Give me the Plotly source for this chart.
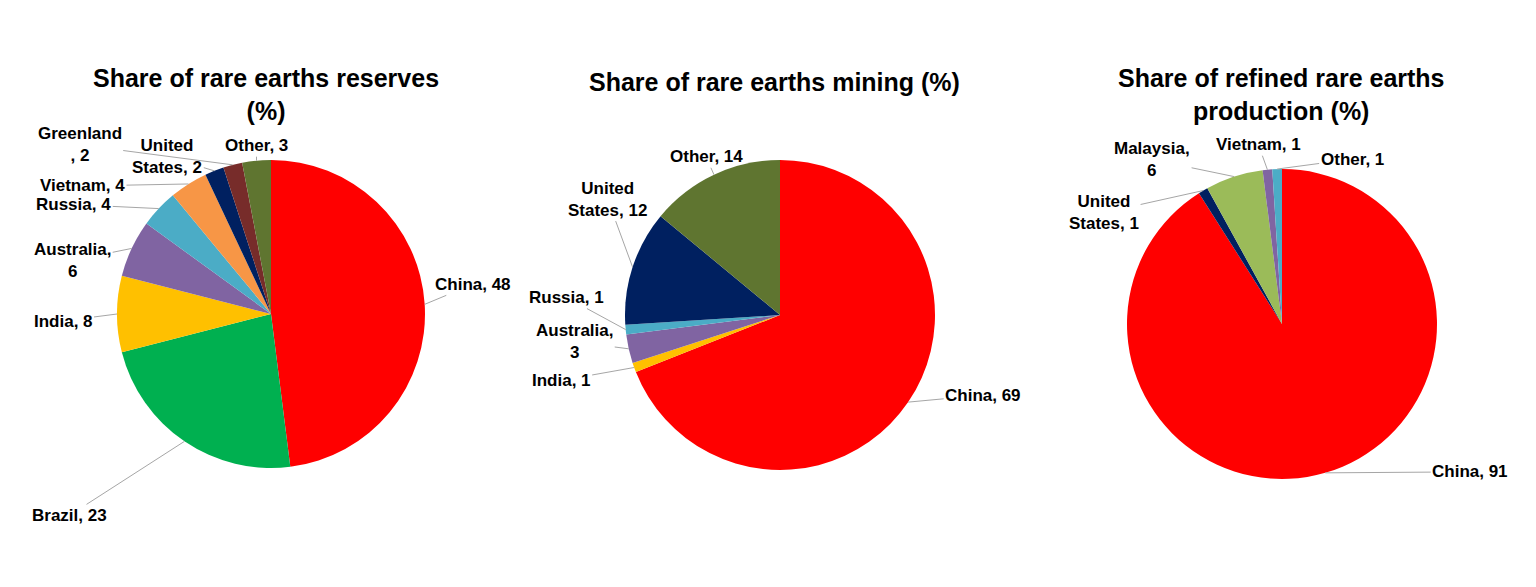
import math
import plotly.graph_objects as go

# the page body adds an 8px margin, so the figure is drawn 8px in from the corner
PAGE_PAD = 8
W, H = 1536 - PAGE_PAD, 587 - PAGE_PAD

# ---- data ----
reserves_labels = ["China", "Brazil", "India", "Australia,<br>", "Russia", "Vietnam",
                   "United<br>States", "Greenland<br>", "Other"]
reserves_values = [48, 23, 8, 6, 4, 4, 2, 2, 3]

mining_labels = ["China", "India", "Australia,<br>", "Russia", "United<br>States", "Other"]
mining_values = [69, 1, 3, 1, 12, 14]

refined_labels = ["China", "United<br>States", "Malaysia,<br>", "Vietnam", "Other"]
refined_values = [91, 1, 6, 1, 1]

# ---- colours ----
reserves_colors = ["#FF0000", "#00B050", "#FFC000", "#8064A2", "#4BACC6",
                   "#F79646", "#002060", "#772C2A", "#5F7530"]
mining_colors = ["#FF0000", "#FFC000", "#8064A2", "#4BACC6", "#002060", "#5F7530"]
refined_colors = ["#FF0000", "#002060", "#9BBB59", "#8064A2", "#4BACC6"]

FONT = "Liberation Sans, Arial, sans-serif"

# pie geometry in screen pixels: centre x, centre y (from top), radius
pies = [
    dict(title="Share of rare earths reserves<br>(%)", cx=271, cy=314, r=154, tx=266, ty=94,
         labels=reserves_labels, values=reserves_values, colors=reserves_colors,
         # label centre offsets from the slice edge point (px)
         offsets=[(48, -20), (-115, 74), (-54, 7), (-59, 12), (-85, -4), (-106, 2),
                  (-47, -14), (-153, -20), (0, -15)]),
    dict(title="Share of rare earths mining (%)", cx=780, cy=315, r=155, tx=775, ty=82,
         labels=mining_labels, values=mining_values, colors=mining_colors,
         offsets=[(75, -7), (-73, 13), (-54, -7), (-59, -32), (-25, -68), (-8, -18)]),
    dict(title="Share of refined rare earths<br>production (%)", cx=1282, cy=324, r=155, tx=1281, ty=95,
         labels=refined_labels, values=refined_values, colors=refined_colors,
         offsets=[(145, -1), (-99, 22), (-82, -17), (-9, -25), (75, -10)]),
]


def to_paper(x, y):
    return (x - PAGE_PAD) / W, 1 - (y - PAGE_PAD) / H


fig = go.Figure()
annotations = []

for p in pies:
    cx, cy, r = p["cx"], p["cy"], p["r"]
    x0, y1 = to_paper(cx - r, cy - r)
    x1, y0 = to_paper(cx + r, cy + r)
    fig.add_trace(go.Pie(
        labels=p["labels"],
        values=p["values"],
        sort=False,
        direction="clockwise",
        rotation=0,
        marker=dict(colors=p["colors"], line=dict(width=0)),
        textinfo="none",
        hoverinfo="label+value",
        showlegend=False,
        domain=dict(x=[x0, x1], y=[y0, y1]),
    ))

    total = sum(p["values"])
    cum = 0
    for lab, val, (dx, dy) in zip(p["labels"], p["values"], p["offsets"]):
        mid = (cum + val / 2) / total * 2 * math.pi
        cum += val
        ex, ey = to_paper(cx + r * math.sin(mid), cy - r * math.cos(mid))
        text = f"{lab}{val}" if lab.endswith(",<br>") else f"{lab}, {val}"
        annotations.append(dict(
            x=ex, y=ey, xref="paper", yref="paper",
            text=f"<b>{text}</b>", showarrow=True, arrowhead=0, arrowwidth=1,
            arrowcolor="#A6A6A6", standoff=0,
            ax=dx, ay=dy, align="center",
            font=dict(family=FONT, size=17, color="#000000"),
        ))

    tx, ty = to_paper(p["tx"], p["ty"])
    annotations.append(dict(
        x=tx, y=ty, xref="paper", yref="paper",
        xanchor="center", yanchor="middle",
        text=f"<b>{p['title']}</b>", showarrow=False, align="center",
        font=dict(family=FONT, size=25, color="#000000"),
    ))

fig.update_layout(
    width=W, height=H,
    margin=dict(l=0, r=0, t=0, b=0),
    paper_bgcolor="white",
    plot_bgcolor="white",
    annotations=annotations,
)

fig.write_html("out.html")
